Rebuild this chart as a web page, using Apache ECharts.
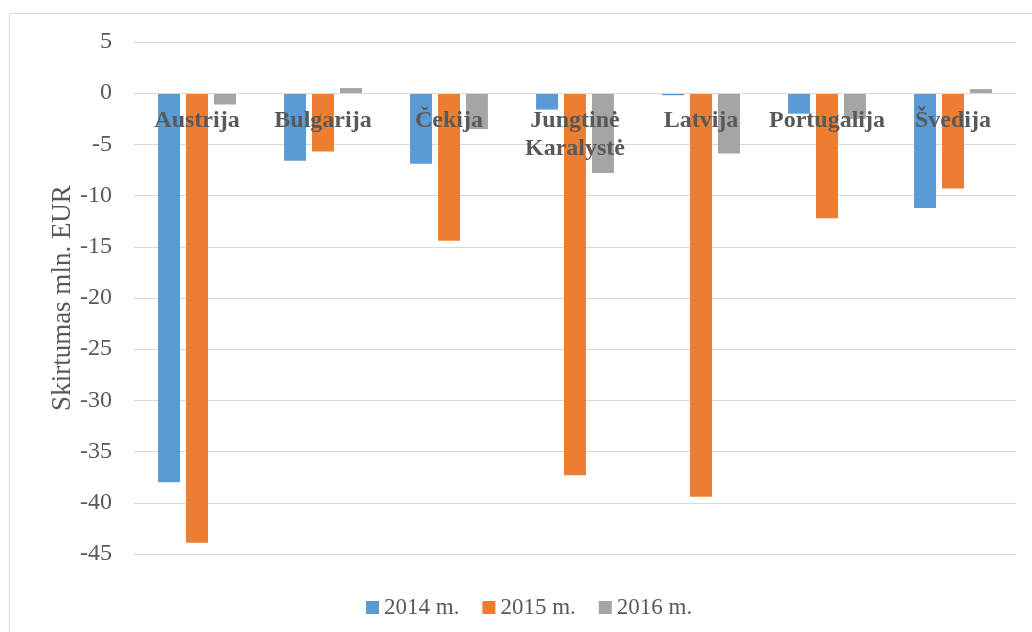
<!DOCTYPE html>
<html>
<head>
<meta charset="utf-8">
<script src="https://cdn.jsdelivr.net/npm/echarts@6/dist/echarts.min.js"></script>
<style>
html,body{margin:0;padding:0;background:#fff;}
#chart{width:1032px;height:632px;}
</style>
</head>
<body>
<div id="chart"></div>
<script>
const categories = ['Austrija', 'Bulgarija', 'Čekija', 'Jungtinė\nKaralystė', 'Latvija', 'Portugalija', 'Švedija'];
const seriesNames = ['2014 m.', '2015 m.', '2016 m.'];
const values2014 = [-38.0, -6.6, -6.9, -1.6, -0.2, -2.0, -11.2];
const values2015 = [-43.9, -5.7, -14.4, -37.3, -39.4, -12.2, -9.3];
const values2016 = [-1.1, 0.5, -3.5, -7.8, -5.9, -2.5, 0.4];
const colors = ['#5B9BD5', '#ED7D31', '#A5A5A5'];
const yTicks = { min: -45, max: 5, interval: 5 };
const yTitle = 'Skirtumas mln. EUR';

const font = 'Liberation Serif, Times New Roman, serif';
const gridTop = 42, gridBottom = 78, H = 632;
const plotH = H - gridTop - gridBottom;
// distance from top of plot (value max) down to value 0
const zeroOffset = plotH * (yTicks.max - 0) / (yTicks.max - yTicks.min);

const chart = echarts.init(document.getElementById('chart'));
const dataSets = [values2014, values2015, values2016];
chart.setOption({
  animation: false,
  backgroundColor: '#fff',
  graphic: [{
    type: 'rect', shape: { x: 9.5, y: 13.5, width: 1100, height: 700 },
    style: { fill: 'none', stroke: '#d9d9d9', lineWidth: 1 }, z: -10
  }],
  grid: { left: 134, right: 16, top: gridTop, bottom: gridBottom, containLabel: false },
  legend: {
    left: 361, top: 591, itemWidth: 13, itemHeight: 13, itemGap: 23,
    icon: 'rect',
    textStyle: { fontFamily: font, fontSize: 23, color: '#595959' },
    data: seriesNames
  },
  xAxis: {
    type: 'category', data: categories, z: 10,
    position: 'top', offset: -zeroOffset,
    axisTick: { show: false },
    axisLine: { show: true, onZero: false, lineStyle: { color: '#d9d9d9', width: 1 } },
    axisLabel: { inside: true, fontFamily: font, fontSize: 24, fontWeight: 'bold', color: '#595959', margin: 14, lineHeight: 28, interval: 0, verticalAlign: 'top' },
    splitLine: { show: false }
  },
  yAxis: {
    type: 'value', min: yTicks.min, max: yTicks.max, interval: yTicks.interval,
    name: yTitle, nameLocation: 'middle', nameGap: 58, nameRotate: 90, nameMoveOverlap: false,
    nameTextStyle: { fontFamily: font, fontSize: 27, color: '#595959' },
    axisLine: { show: false }, axisTick: { show: false },
    axisLabel: { fontFamily: font, fontSize: 24, color: '#595959', margin: 22 },
    splitLine: { lineStyle: { color: '#d9d9d9', width: 1 } }
  },
  series: seriesNames.map((n, i) => ({
    name: n, type: 'bar', data: dataSets[i], barWidth: 22, barGap: '27%',
    itemStyle: { color: colors[i] }
  }))
});
</script>
</body>
</html>
